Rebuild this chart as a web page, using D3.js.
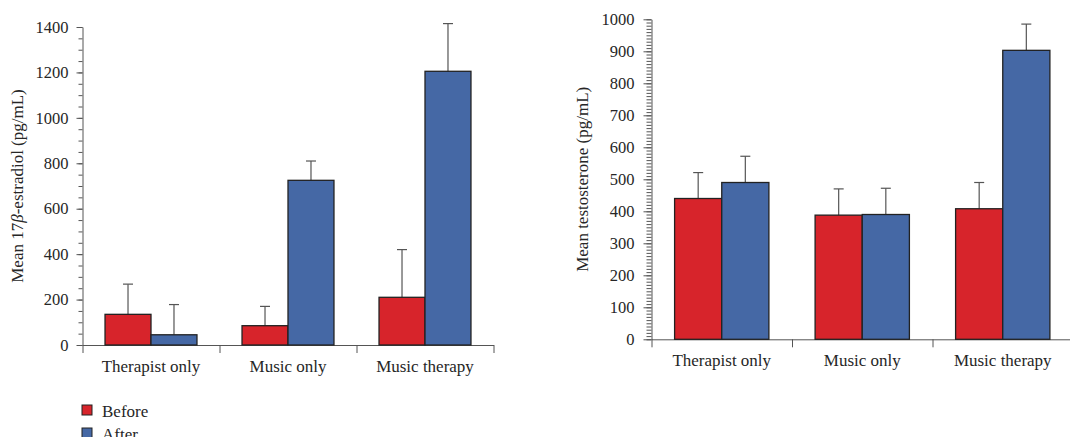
<!DOCTYPE html>
<html>
<head>
<meta charset="utf-8">
<script src="https://cdn.jsdelivr.net/npm/d3@7"></script>
<style>
  body { margin: 0; background: #fff; }
  svg text { font-family: "Liberation Serif", "Times New Roman", serif; fill: #262626; }
  .axis path, .axis line { stroke: #555; }
</style>
</head>
<body>
<svg id="chart" width="1070" height="437"></svg>
<script>
// groups and series
var groups = ["Therapist only", "Music only", "Music therapy"];
var subgroups = ["Before", "After"];

// estradiol (pg/mL)
var estradiolBefore = [135, 85, 210];
var estradiolAfter = [45, 725, 1205];
var estradiolBeforeErr = [268, 170, 420];
var estradiolAfterErr = [178, 810, 1415];

// testosterone (pg/mL)
var testoBefore = [440, 388, 408];
var testoAfter = [490, 390, 903];
var testoBeforeErr = [521, 470, 490];
var testoAfterErr = [572, 472, 985];

var estradiolTicks = [0, 200, 400, 600, 800, 1000, 1200, 1400];
var testoTicks = [0, 100, 200, 300, 400, 500, 600, 700, 800, 900, 1000];

var color = d3.scaleOrdinal().domain(subgroups).range(["#d7242b", "#4568a5"]);

var svg = d3.select("#chart");

function drawPanel(opt) {
    var g = svg.append("g");

    var x = d3.scaleBand().domain(groups).range([opt.left, opt.right]);
    var xIdx = d3.scaleLinear().domain([0, groups.length]).range([opt.left, opt.right]);
    var y = d3.scaleLinear().domain([0, opt.max]).range([opt.bottom, opt.top]);
    var xSub = d3.scaleBand().domain(subgroups).range([0, x.bandwidth()]).paddingOuter(0.49);

    // minor y ticks
    g.append("g")
        .attr("class", "axis")
        .attr("transform", "translate(" + opt.left + ",0)")
        .call(d3.axisLeft(y).tickValues(d3.range(0, opt.max + 1, opt.minor)).tickSize(opt.minorSize).tickFormat(""))
        .call(g => g.select(".domain").remove());

    // major y ticks
    g.append("g")
        .attr("class", "axis")
        .attr("transform", "translate(" + opt.left + ",0)")
        .call(d3.axisLeft(y).tickValues(opt.ticks).tickSize(opt.majorSize).tickSizeOuter(0)
            .tickPadding(opt.tickPad).tickFormat(d3.format("d")))
        .call(g => g.selectAll("text").style("font-size", "16.5px"));

    // x axis ticks at group boundaries
    g.append("g")
        .attr("class", "axis")
        .attr("transform", "translate(0," + opt.bottom + ")")
        .call(d3.axisBottom(xIdx).tickValues(d3.range(0, groups.length + 1)).tickSize(8).tickSizeOuter(0).tickFormat(""));

    // category labels
    g.append("g")
        .attr("class", "axis")
        .attr("transform", "translate(0," + opt.bottom + ")")
        .call(d3.axisBottom(x).tickSize(0).tickPadding(opt.labelPad))
        .call(g => g.select(".domain").remove())
        .call(g => g.selectAll("text").style("font-size", "17px"));

    var rows = groups.map(function(d, i) {
        return [
            {group: d, key: "Before", value: opt.before[i], err: opt.beforeErr[i]},
            {group: d, key: "After", value: opt.after[i], err: opt.afterErr[i]}
        ];
    });

    var bars = g.append("g")
        .selectAll("g")
        .data(rows)
        .join("g")
        .attr("transform", (d, i) => "translate(" + x(groups[i]) + ",0)");

    // error bars (upper only)
    bars.selectAll("line.err")
        .data(d => d)
        .join("line")
        .attr("class", "err")
        .attr("x1", d => xSub(d.key) + xSub.bandwidth() / 2)
        .attr("x2", d => xSub(d.key) + xSub.bandwidth() / 2)
        .attr("y1", d => y(d.value))
        .attr("y2", d => y(d.err))
        .attr("stroke", "#555")
        .attr("stroke-width", 1.2);

    bars.selectAll("line.cap")
        .data(d => d)
        .join("line")
        .attr("class", "cap")
        .attr("x1", d => xSub(d.key) + xSub.bandwidth() / 2 - 5)
        .attr("x2", d => xSub(d.key) + xSub.bandwidth() / 2 + 5)
        .attr("y1", d => y(d.err))
        .attr("y2", d => y(d.err))
        .attr("stroke", "#555")
        .attr("stroke-width", 1.2);

    bars.selectAll("rect")
        .data(d => d)
        .join("rect")
        .attr("x", d => xSub(d.key))
        .attr("y", d => y(d.value))
        .attr("width", xSub.bandwidth())
        .attr("height", d => opt.bottom - y(d.value))
        .attr("fill", d => color(d.key))
        .attr("stroke", "#222")
        .attr("stroke-width", 1.3);

    // y axis label
    var label = g.append("text")
        .attr("transform", "translate(" + opt.labelX + "," + ((opt.top + opt.bottom) / 2) + ") rotate(-90)")
        .attr("text-anchor", "middle")
        .style("font-size", "17px");
    opt.labelParts.forEach(function(p) {
        label.append("tspan").text(p.t).style("font-style", p.italic ? "italic" : "normal");
    });
}

drawPanel({
    left: 82.5, right: 493.5, top: 27, bottom: 345, max: 1400,
    ticks: estradiolTicks, minor: 50, majorSize: 6, minorSize: 4, tickPad: 8, labelPad: 15,
    before: estradiolBefore, after: estradiolAfter, beforeErr: estradiolBeforeErr, afterErr: estradiolAfterErr,
    labelX: 23,
    labelParts: [{t: "Mean 17"}, {t: "β", italic: true}, {t: "-estradiol (pg/mL)"}]
});

drawPanel({
    left: 651.5, right: 1073, top: 19.3, bottom: 339.3, max: 1000,
    ticks: testoTicks, minor: 10, majorSize: 8, minorSize: 5, tickPad: 9, labelPad: 15,
    before: testoBefore, after: testoAfter, beforeErr: testoBeforeErr, afterErr: testoAfterErr,
    labelX: 588,
    labelParts: [{t: "Mean testosterone (pg/mL)"}]
});

// legend
var legend = svg.append("g")
    .selectAll("g")
    .data(subgroups)
    .join("g")
    .attr("transform", (d, i) => "translate(82," + (405 + i * 23) + ")");

legend.append("rect")
    .attr("width", 10)
    .attr("height", 10)
    .attr("fill", d => color(d))
    .attr("stroke", "#222")
    .attr("stroke-width", 1);

legend.append("text")
    .attr("x", 20)
    .attr("y", 12)
    .style("font-size", "17px")
    .text(d => d);
</script>
</body>
</html>
